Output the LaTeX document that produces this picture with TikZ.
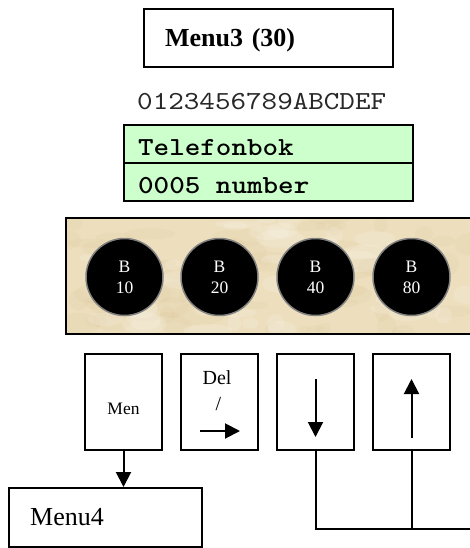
\documentclass[tikz,border=0pt]{standalone}
\usepackage{fontspec}
\setmainfont{Liberation Serif}
\newfontfamily\monofont[Extension=.otf, UprightFont=lmmono10-regular,
  BoldFont=lmmonolt10-bold, FakeStretch=1.14]{lmmono10-regular}
\usetikzlibrary{arrows.meta}
\definecolor{lcdgreen}{RGB}{204,255,204}
\definecolor{parchment}{RGB}{237,223,190}
\definecolor{parchdark}{RGB}{214,192,145}
\definecolor{ringgray}{RGB}{128,128,128}
\definecolor{digitgray}{RGB}{40,40,40}

\begin{document}
\begin{tikzpicture}[x=1pt,y=-1pt,
  box/.style={draw=black, line width=2.3pt, inner ysep=0pt},
  key/.style={box, inner sep=0pt, minimum width=77pt, minimum height=96pt},
  lcdrow/.style={draw=black, line width=2.3pt, fill=lcdgreen, text width=261pt,
    inner xsep=14pt, inner ysep=0pt, minimum height=38pt, align=left,
    text height=22.5pt, text depth=0pt,
    font=\monofont\bfseries\fontsize{26}{30}\selectfont},
  bitbutton/.style={circle, fill=black, draw=ringgray, line width=1.5pt,
    minimum size=77pt, inner sep=0pt, text=white, align=center,
    font=\fontsize{17.5}{21}\selectfont},
  conn/.style={line width=2pt},
  arrowed/.style={-{Triangle[width=15pt,length=15pt]}},
  keyfont/.style={font=\fontsize{20}{24}\selectfont, inner sep=0pt}
]
\useasboundingbox (0,0) rectangle (469,548);

% menu title
\node[box, anchor=north west, inner xsep=21pt, text width=207pt, minimum height=58pt,
  align=left, text height=16pt, text depth=0pt,
  font=\bfseries\fontsize{26}{30}\selectfont] (menu3) at (143,8) {Menu3 (30)};

% column ruler of the display
\node[anchor=base west, inner sep=0pt, text=digitgray,
  font=\monofont\fontsize{26}{30}\selectfont] (ruler) at (137,110) {0123456789ABCDEF};

% two-line LCD (one blank cell between the fields)
\node[lcdrow, anchor=north west] (row1) at (123,124) {Telefonbok};
\node[lcdrow, anchor=north west] (row2) at (123,162) {0005\hphantom{0}number};

% parchment panel with the four LEDs
\fill[parchment] (66,218) rectangle (480,334);
\begin{scope}
  \clip (66,218) rectangle (480,334);
  \pgfmathsetseed{7}
  \foreach \i in {1,...,70}{
    \pgfmathsetmacro\px{66+410*rnd}
    \pgfmathsetmacro\py{218+116*rnd}
    \pgfmathsetmacro\rx{6+22*rnd}
    \pgfmathsetmacro\ry{3+9*rnd}
    \fill[parchdark, opacity=0.12] (\px,\py) ellipse [x radius=\rx, y radius=\ry];
  }
  \foreach \i in {1,...,40}{
    \pgfmathsetmacro\px{66+410*rnd}
    \pgfmathsetmacro\py{218+116*rnd}
    \pgfmathsetmacro\rx{6+20*rnd}
    \pgfmathsetmacro\ry{3+8*rnd}
    \fill[white, opacity=0.15] (\px,\py) ellipse [x radius=\rx, y radius=\ry];
  }
\end{scope}
\draw[line width=2.3pt] (66,218) rectangle (480,334);

\node[bitbutton] (b10) at (124.5,277) {B\\10};
\node[bitbutton] (b20) at (219.5,277) {B\\20};
\node[bitbutton] (b40) at (315.5,277) {B\\40};
\node[bitbutton] (b80) at (411.5,277) {B\\80};

% push keys
\node[key, text height=24pt, text depth=0pt, font=\fontsize{17.5}{21}\selectfont] (k1) at (123.5,402) {Men};
\node[key] (k2) at (219.5,402) {};
\node[key] (k3) at (315.5,402) {};
\node[key] (k4) at (411.5,402) {};

\node[keyfont, anchor=base] (del) at (217,384) {Del};
\node[keyfont, anchor=base] (slash) at (218.3,410) {/};
\draw[conn, arrowed] (200,431) -- (240,431);
\draw[conn, arrowed] (315.5,379) -- (315.5,437);
\draw[conn, arrowed] (411.5,438) -- (411.5,379);

% next menu
\node[box, anchor=north west, inner xsep=21pt, text width=151pt, minimum height=59pt,
  align=left, text height=16pt, text depth=0pt,
  font=\fontsize{26}{30}\selectfont] (menu4) at (8,487) {Menu4};

\draw[conn, arrowed] (k1.south) -- (k1.south |- menu4.north);

\coordinate (busend) at (470,529);
\draw[conn] (k3.south) |- (busend);
\draw[conn] (k4.south) -- (k4.south |- busend);
\end{tikzpicture}
\end{document}
